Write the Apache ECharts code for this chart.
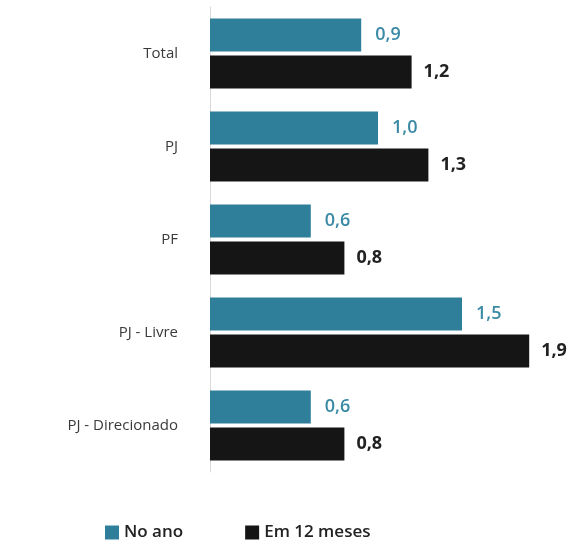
<!DOCTYPE html>
<html>
<head>
<meta charset="utf-8">
<script src="https://cdn.jsdelivr.net/npm/echarts@6/dist/echarts.min.js"></script>
<style>
  html, body { margin: 0; padding: 0; background: #fff; }
  #main { width: 580px; height: 546px; }
</style>
</head>
<body>
<div id="main"></div>
<script>
var categories = ["Total", "PJ", "PF", "PJ - Livre", "PJ - Direcionado"];
var noAno = [0.9, 1.0, 0.6, 1.5, 0.6];
var em12Meses = [1.2, 1.3, 0.8, 1.9, 0.8];

var chart = echarts.init(document.getElementById("main"), null, { renderer: "canvas" });

function fmt(p) {
  return p.value.toFixed(1).replace(".", ",");
}

var option = {
  animation: false,
  textStyle: { fontFamily: "Open Sans" },
  grid: { left: 210, top: 7, width: 336, height: 465, containLabel: false },
  legend: {
    bottom: 0,
    left: 100,
    itemWidth: 14,
    itemHeight: 14,
    itemGap: 62,
    icon: "rect",
    textStyle: { fontSize: 17, fontWeight: 600, color: "#222", fontFamily: "Open Sans" },
    data: ["No ano", "Em 12 meses"]
  },
  xAxis: {
    type: "value",
    min: 0,
    max: 2,
    show: false
  },
  yAxis: {
    type: "category",
    data: categories,
    inverse: true,
    axisLine: { show: true, lineStyle: { color: "#d9d9d9", width: 1 } },
    axisTick: { show: false },
    axisLabel: { margin: 32, fontSize: 15, color: "#3a3a3a", fontFamily: "Open Sans" }
  },
  series: [
    {
      name: "No ano",
      type: "bar",
      data: noAno,
      barWidth: 33,
      barGap: "12%",
      itemStyle: { color: "#2f7f9b" },
      label: {
        show: true,
        position: "right",
        distance: 14,
        formatter: fmt,
        fontSize: 18,
        fontWeight: 600,
        color: "#3a8aa6",
        fontFamily: "Open Sans"
      }
    },
    {
      name: "Em 12 meses",
      type: "bar",
      data: em12Meses,
      barWidth: 33,
      itemStyle: { color: "#151515" },
      label: {
        show: true,
        position: "right",
        distance: 12,
        formatter: fmt,
        fontSize: 18,
        fontWeight: "bold",
        color: "#222",
        fontFamily: "Open Sans"
      }
    }
  ]
};

chart.setOption(option);
</script>
</body>
</html>
